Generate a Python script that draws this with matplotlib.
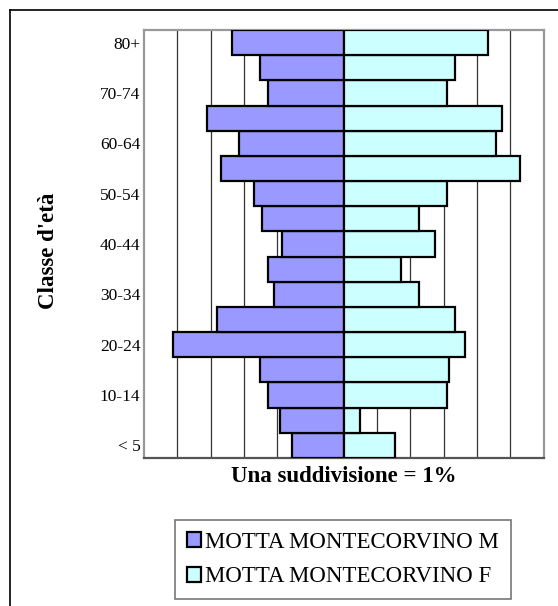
import matplotlib
matplotlib.use("Agg")
import matplotlib.pyplot as plt
from matplotlib.lines import Line2D

categories = ["< 5", "5-9", "10-14", "15-19", "20-24", "25-29", "30-34", "35-39",
              "40-44", "45-49", "50-54", "55-59", "60-64", "65-69", "70-74", "75-79", "80+"]
males = [1.56, 1.91, 2.29, 2.52, 5.14, 3.81, 2.10, 2.29, 1.85, 2.46, 2.71, 3.68,
         3.14, 4.11, 2.29, 2.52, 3.37]
females = [1.54, 0.50, 3.11, 3.16, 3.65, 3.35, 2.26, 1.71, 2.75, 2.25, 3.11, 5.30,
           4.56, 4.75, 3.11, 3.35, 4.32]
series_names = ["MOTTA MONTECORVINO M", "MOTTA MONTECORVINO F"]

plt.rcParams['font.family'] = ['Liberation Serif', 'DejaVu Serif']

W, H = 558, 606
fig = plt.figure(figsize=(W / 100, H / 100), dpi=100)
fig.patch.set_facecolor('white')

# outer chart frame (only top/left visible)
fig.add_artist(Line2D([10 / W, 10 / W], [0, 1 - 10 / H], transform=fig.transFigure,
                      color='black', lw=1.2))
fig.add_artist(Line2D([10 / W, 1], [1 - 10 / H, 1 - 10 / H], transform=fig.transFigure,
                      color='black', lw=1.2))

left, right, top, bottom = 144, 543.5, 30, 458
ax = fig.add_axes([left / W, 1 - bottom / H, (right - left) / W, (bottom - top) / H])

y = list(range(len(categories)))
neg_m = [-v for v in males]
bm = ax.barh(y, neg_m, height=1.0, color='#9999FF', edgecolor='black', linewidth=1.6,
             label=series_names[0], zorder=3)
bf = ax.barh(y, females, height=1.0, color='#CCFFFF', edgecolor='black', linewidth=1.6,
             label=series_names[1], zorder=3)

ax.set_xlim(-6, 6)
ax.set_ylim(-0.5, len(categories) - 0.5)
ax.set_xticks(range(-5, 6))
ax.set_xticklabels([])
ax.tick_params(axis='x', length=0)
ax.grid(axis='x', color='#333333', linewidth=0.9, zorder=0)
ax.set_axisbelow(True)

ax.set_yticks(y[::2])
ax.set_yticklabels(categories[::2], fontsize=12.5)
ax.tick_params(axis='y', length=0, pad=2.5)

for s in ['left', 'right', 'top']:
    ax.spines[s].set_color('#999999')
    ax.spines[s].set_linewidth(1.6)
ax.spines['bottom'].set_color('#555555')
ax.spines['bottom'].set_linewidth(1.6)

ax.set_ylabel("Classe d'età", fontsize=16.5, fontweight='bold')
ax.yaxis.set_label_coords((49 - left) / (right - left), 1 - (251 - top) / (bottom - top))
ax.yaxis.label.set_va('center')
ax.set_xlabel("Una suddivisione = 1%", fontsize=16.5, fontweight='bold')
ax.xaxis.set_label_coords(0.5, -(476 - bottom) / (bottom - top))
ax.xaxis.label.set_va('center')

leg = fig.legend(handles=[bm, bf], labels=series_names, loc='center',
                 bbox_to_anchor=(343 / W, 1 - 559.5 / H), fontsize=16.5,
                 frameon=True, fancybox=False, edgecolor='#777777', framealpha=1,
                 handlelength=0.6, handleheight=0.6, handletextpad=0.2,
                 borderpad=0.5, labelspacing=0.6, borderaxespad=0)
leg.get_frame().set_linewidth(1.2)

fig.savefig("out.png", dpi=100, facecolor='white')
